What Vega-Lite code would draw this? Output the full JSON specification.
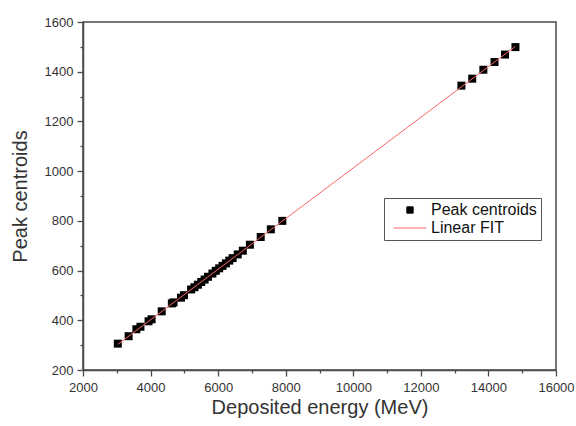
{
  "$schema": "https://vega.github.io/schema/vega-lite/v6.json",
  "width": 473,
  "height": 348,
  "autosize": {"type": "none"},
  "padding": {"left": 83, "top": 22, "right": 20, "bottom": 56},
  "background": "white",
  "config": {
    "font": "Liberation Sans",
    "view": {"stroke": "#4a4a4a", "strokeWidth": 1.5},
    "axis": {
      "grid": false,
      "domainColor": "#4a4a4a",
      "domainWidth": 1.5,
      "tickColor": "#4a4a4a",
      "tickWidth": 1.3,
      "labelFont": "Liberation Sans",
      "labelFontSize": 13,
      "labelColor": "#333333",
      "titleFont": "Liberation Sans",
      "titleFontSize": 20,
      "titleFontWeight": "normal",
      "titleColor": "#333333"
    }
  },
  "datasets": {
    "pts": [
      {"energy": 3030, "centroid": 306, "series": "Peak centroids"},
      {"energy": 3350, "centroid": 336, "series": "Peak centroids"},
      {"energy": 3580, "centroid": 364, "series": "Peak centroids"},
      {"energy": 3700, "centroid": 374, "series": "Peak centroids"},
      {"energy": 3940, "centroid": 396, "series": "Peak centroids"},
      {"energy": 4030, "centroid": 404, "series": "Peak centroids"},
      {"energy": 4330, "centroid": 436, "series": "Peak centroids"},
      {"energy": 4630, "centroid": 468, "series": "Peak centroids"},
      {"energy": 4680, "centroid": 472, "series": "Peak centroids"},
      {"energy": 4900, "centroid": 491, "series": "Peak centroids"},
      {"energy": 4990, "centroid": 501, "series": "Peak centroids"},
      {"energy": 5200, "centroid": 524, "series": "Peak centroids"},
      {"energy": 5300, "centroid": 533, "series": "Peak centroids"},
      {"energy": 5400, "centroid": 543, "series": "Peak centroids"},
      {"energy": 5500, "centroid": 554, "series": "Peak centroids"},
      {"energy": 5600, "centroid": 564, "series": "Peak centroids"},
      {"energy": 5700, "centroid": 575, "series": "Peak centroids"},
      {"energy": 5830, "centroid": 588, "series": "Peak centroids"},
      {"energy": 5930, "centroid": 599, "series": "Peak centroids"},
      {"energy": 6030, "centroid": 609, "series": "Peak centroids"},
      {"energy": 6130, "centroid": 619, "series": "Peak centroids"},
      {"energy": 6230, "centroid": 629, "series": "Peak centroids"},
      {"energy": 6330, "centroid": 640, "series": "Peak centroids"},
      {"energy": 6430, "centroid": 650, "series": "Peak centroids"},
      {"energy": 6580, "centroid": 665, "series": "Peak centroids"},
      {"energy": 6730, "centroid": 680, "series": "Peak centroids"},
      {"energy": 6940, "centroid": 704, "series": "Peak centroids"},
      {"energy": 7260, "centroid": 735, "series": "Peak centroids"},
      {"energy": 7560, "centroid": 766, "series": "Peak centroids"},
      {"energy": 7900, "centroid": 800, "series": "Peak centroids"},
      {"energy": 13200, "centroid": 1344, "series": "Peak centroids"},
      {"energy": 13520, "centroid": 1372, "series": "Peak centroids"},
      {"energy": 13850, "centroid": 1408, "series": "Peak centroids"},
      {"energy": 14180, "centroid": 1439, "series": "Peak centroids"},
      {"energy": 14490, "centroid": 1469, "series": "Peak centroids"},
      {"energy": 14800, "centroid": 1499, "series": "Peak centroids"}
    ],
    "fit": [
      {"energy": 3030, "centroid": 303, "series": "Linear FIT"},
      {"energy": 14800, "centroid": 1502, "series": "Linear FIT"}
    ]
  },
  "encoding": {
    "x": {
      "field": "energy",
      "type": "quantitative",
      "scale": {"domain": [2000, 16000], "nice": false, "zero": false},
      "axis": {
        "title": "Deposited energy (MeV)",
        "values": [2000, 3000, 4000, 5000, 6000, 7000, 8000, 9000, 10000, 11000, 12000, 13000, 14000, 15000, 16000],
        "labelExpr": "datum.value % 2000 === 0 ? datum.value : ''",
        "format": "d",
        "tickSize": {"condition": {"test": "datum.value % 2000 === 0", "value": 6}, "value": 3},
        "labelPadding": 5,
        "titlePadding": 3,
        "labelFlush": false
      }
    },
    "y": {
      "field": "centroid",
      "type": "quantitative",
      "scale": {"domain": [200, 1600], "nice": false, "zero": false},
      "axis": {
        "title": "Peak centroids",
        "values": [200, 300, 400, 500, 600, 700, 800, 900, 1000, 1100, 1200, 1300, 1400, 1500, 1600],
        "labelExpr": "datum.value % 200 === 0 ? datum.value : ''",
        "format": "d",
        "tickSize": {"condition": {"test": "datum.value % 200 === 0", "value": 6}, "value": 3},
        "labelPadding": 4,
        "titlePadding": 14,
        "labelFlush": false
      }
    },
    "color": {
      "field": "series",
      "type": "nominal",
      "scale": {"domain": ["Peak centroids", "Linear FIT"], "range": ["#000000", "#ff6464"]},
      "legend": {
        "title": null,
        "orient": "none",
        "legendX": 301,
        "legendY": 176,
        "direction": "vertical",
        "strokeColor": "#555555",
        "padding": 4,
        "labelFontSize": 16,
        "labelFont": "Liberation Sans",
        "labelColor": "#111111",
        "symbolOffset": 14,
        "labelOffset": 13,
        "rowPadding": 2,
        "symbolStrokeWidth": 1,
        "encode": {
          "symbols": {
            "update": {
              "shape": {"signal": "datum.value === 'Linear FIT' ? 'stroke' : 'square'"},
              "size": {"signal": "datum.value === 'Linear FIT' ? 1050 : 40"},
              "fill": {"signal": "datum.value === 'Linear FIT' ? 'transparent' : '#000000'"},
              "stroke": {"signal": "datum.value === 'Linear FIT' ? '#ff6464' : 'transparent'"},
              "strokeWidth": {"value": 1}
            }
          }
        }
      }
    }
  },
  "layer": [
    {
      "data": {"name": "pts"},
      "mark": {"type": "square", "size": 64, "opacity": 1, "filled": true}
    },
    {
      "data": {"name": "fit"},
      "mark": {"type": "line", "strokeWidth": 1}
    }
  ]
}
